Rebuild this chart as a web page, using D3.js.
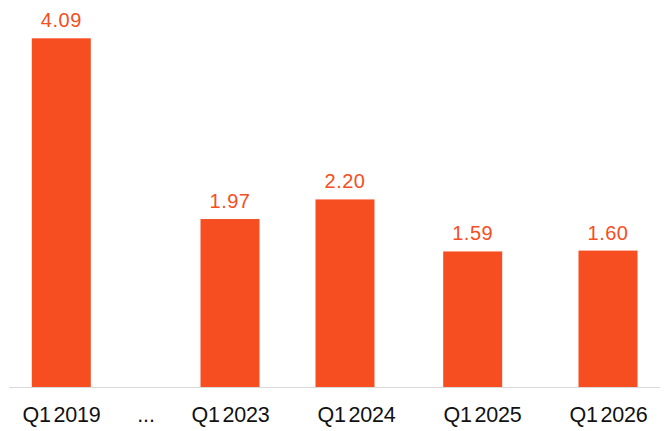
<!DOCTYPE html>
<html>
<head>
<meta charset="utf-8">
<script src="https://cdn.jsdelivr.net/npm/d3@7"></script>
<style>
  html, body { margin: 0; padding: 0; background: #ffffff; }
  svg { display: block; }
</style>
</head>
<body>
<svg id="chart" width="667" height="431"></svg>
<script>
// Axis categories, in order; "..." marks the skipped years
const categories = ["Q1 2019", "...", "Q1 2023", "Q1 2024", "Q1 2025", "Q1 2026"];
// Quarters that carry a bar and their values
const barCategories = ["Q1 2019", "Q1 2023", "Q1 2024", "Q1 2025", "Q1 2026"];
const barValues = [4.09, 1.97, 2.20, 1.59, 1.60];

const width = 667, height = 431;
const baseY = 387;
const barWidth = 59;
const orange = "#F64D21";

const svg = d3.select("#chart");

// Category labels sit on a piecewise grid: tighter on the left around the gap
const xLabel = d3.scaleLinear()
  .domain([0, 2, categories.length - 1])
  .range([61, 230, 608]);

// Bar centres, placed slightly independently of the labels
const xBar = d3.scaleLinear()
  .domain([0, 2, 3, 4, 5])
  .range([61.3, 230, 345, 472.7, 608]);

const y = d3.scaleLinear()
  .domain([0, d3.max(barValues)])
  .range([baseY, 38.3]);

const bars = barCategories.map((c, i) => ({
  cat: c,
  value: barValues[i],
  idx: categories.indexOf(c)
}));

// Bars
svg.append("g").selectAll("rect")
  .data(bars)
  .join("rect")
  .attr("x", d => xBar(d.idx) - barWidth / 2)
  .attr("y", d => y(d.value))
  .attr("width", barWidth)
  .attr("height", d => y(0) - y(d.value))
  .attr("fill", orange);

// Value labels above bars
svg.append("g").selectAll("text")
  .data(bars)
  .join("text")
  .attr("x", d => xBar(d.idx))
  .attr("y", d => y(d.value) - 11)
  .attr("text-anchor", "middle")
  .attr("font-family", "'Liberation Sans', Arial, sans-serif")
  .attr("font-size", 20)
  .attr("letter-spacing", 0.5)
  .attr("fill", orange)
  .text(d => d.value.toFixed(2));

// Baseline
svg.append("line")
  .attr("x1", 9).attr("x2", 660)
  .attr("y1", baseY + 0.5).attr("y2", baseY + 0.5)
  .attr("stroke", "#d9d9d9")
  .attr("stroke-width", 1.2);

// Category axis
const axis = d3.axisBottom(xLabel)
  .tickValues(d3.range(categories.length))
  .tickFormat(i => categories[i])
  .tickSize(0)
  .tickPadding(0);

const gAxis = svg.append("g")
  .attr("transform", `translate(0,${baseY})`)
  .call(axis);
gAxis.select(".domain").remove();
gAxis.selectAll("text")
  .attr("dy", null)
  .attr("y", 35)
  .attr("font-family", "'Liberation Sans', Arial, sans-serif")
  .attr("font-size", 21.5)
  .attr("letter-spacing", -0.2)
  .attr("word-spacing", -3)
  .attr("fill", "#111111");
</script>
</body>
</html>
